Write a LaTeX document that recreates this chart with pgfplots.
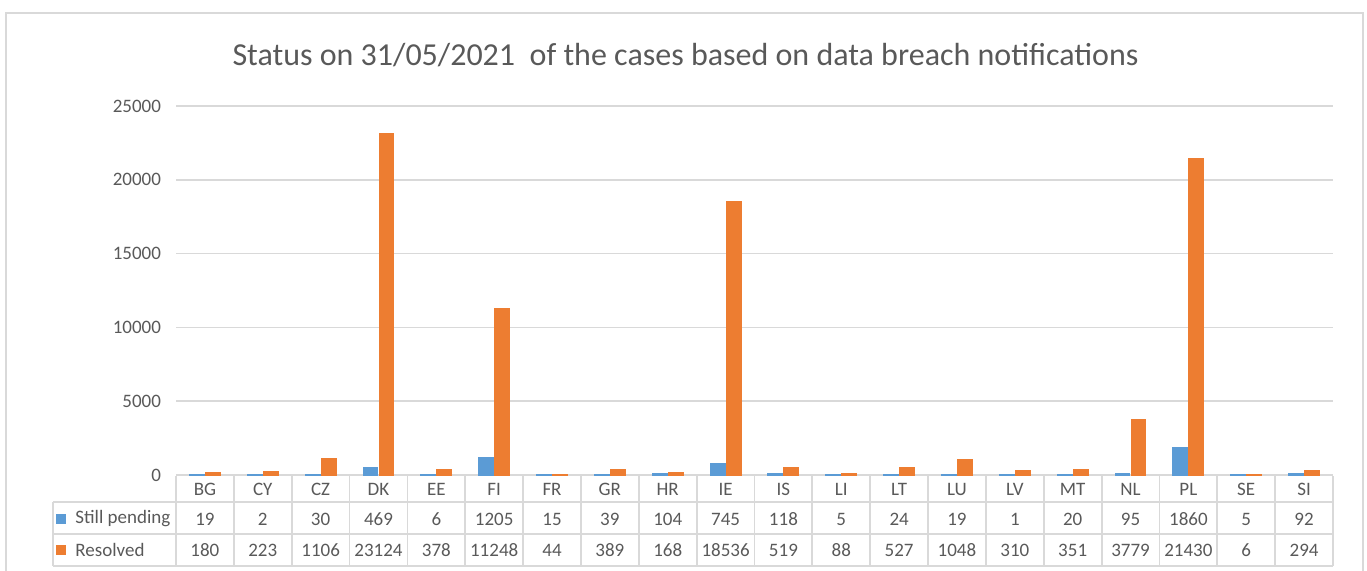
\documentclass[border=0pt]{standalone}
\usepackage{fontspec}
\setmainfont{Carlito}
\usepackage{pgfplots}
\pgfplotsset{compat=1.18}
\definecolor{bblue}{HTML}{5B9BD5}
\definecolor{borange}{HTML}{ED7D31}
\definecolor{tgray}{HTML}{595959}
\definecolor{lgray}{HTML}{D9D9D9}
\begin{document}
\begin{tikzpicture}
\begin{scope}[x=0.5pt,y=-0.5pt]
\useasboundingbox (0,0) rectangle (1367,570);
\draw[lgray, line width=1pt] (6,600) -- (6,13) -- (1363,13) -- (1363,600);
\node[tgray, font=\fontsize{16}{18}\selectfont] at (685.5,55) {Status on 31/05/2021\ \ of the cases based on data breach notifications};
\coordinate (O) at (176,475);
\end{scope}
\begin{axis}[at={(O)}, anchor=south west, scale only axis,
  width=578.5pt, height=184.5pt,
  xmin=-0.5, xmax=19.5, ymin=0, ymax=25000,
  ytick={0,5000,...,25000}, xtick=\empty, scaled y ticks=false,
  ymajorgrids, grid style={lgray, line width=0.8pt},
  axis line style={draw=none}, major tick length=0pt,
  /pgf/number format/assume math mode=true,
  /pgf/number format/set thousands separator={},
  yticklabel style={tgray, font=\fontsize{9.5}{11}\selectfont, xshift=-4pt},
  clip=false]
\addplot[ybar, fill=bblue, draw=bblue, line width=0.7pt, bar width=7.25pt, bar shift=-4pt] coordinates {
(0,19) (1,2) (2,30) (3,469) (4,6) (5,1205) (6,15) (7,39) (8,104) (9,745)
(10,118) (11,5) (12,24) (13,19) (14,1) (15,20) (16,95) (17,1860) (18,5) (19,92)};
\addplot[ybar, fill=borange, draw=borange, line width=0.7pt, bar width=7.25pt, bar shift=4pt] coordinates {
(0,180) (1,223) (2,1106) (3,23124) (4,378) (5,11248) (6,44) (7,389) (8,168) (9,18536)
(10,519) (11,88) (12,527) (13,1048) (14,310) (15,351) (16,3779) (17,21430) (18,6) (19,294)};
\end{axis}
\begin{scope}[x=0.5pt,y=-0.5pt]
% data table
\draw[lgray, line width=0.9pt] (53,502) -- (1333,502);
\draw[lgray, line width=0.9pt] (53,534) -- (1333,534);
\draw[lgray, line width=0.9pt] (53,566) -- (1333,566);
\draw[lgray, line width=0.9pt] (53,502) -- (53,566);
\foreach \i in {0,...,20} {\draw[lgray, line width=0.9pt] ({176+\i*57.85},476) -- ({176+\i*57.85},566);}
\fill[bblue] (56,514) rectangle (66,524);
\fill[borange] (56,545) rectangle (66,555);
\node[tgray, anchor=west, inner sep=0, font=\fontsize{9.5}{11}\selectfont] at (75,519) {Still pending};
\node[tgray, anchor=west, inner sep=0, font=\fontsize{9.5}{11}\selectfont] at (75,550) {Resolved};
\foreach \c [count=\i from 0] in {BG,CY,CZ,DK,EE,FI,FR,GR,HR,IE,IS,LI,LT,LU,LV,MT,NL,PL,SE,SI}
  {\node[tgray, font=\fontsize{9.5}{11}\selectfont] at ({176+(\i+0.5)*57.85},489) {\c};}
\foreach \v [count=\i from 0] in {19,2,30,469,6,1205,15,39,104,745,118,5,24,19,1,20,95,1860,5,92}
  {\node[tgray, font=\fontsize{9.5}{11}\selectfont] at ({176+(\i+0.5)*57.85},519) {\v};}
\foreach \v [count=\i from 0] in {180,223,1106,23124,378,11248,44,389,168,18536,519,88,527,1048,310,351,3779,21430,6,294}
  {\node[tgray, font=\fontsize{9.5}{11}\selectfont] at ({176+(\i+0.5)*57.85},550) {\v};}
\end{scope}
\end{tikzpicture}
\end{document}
